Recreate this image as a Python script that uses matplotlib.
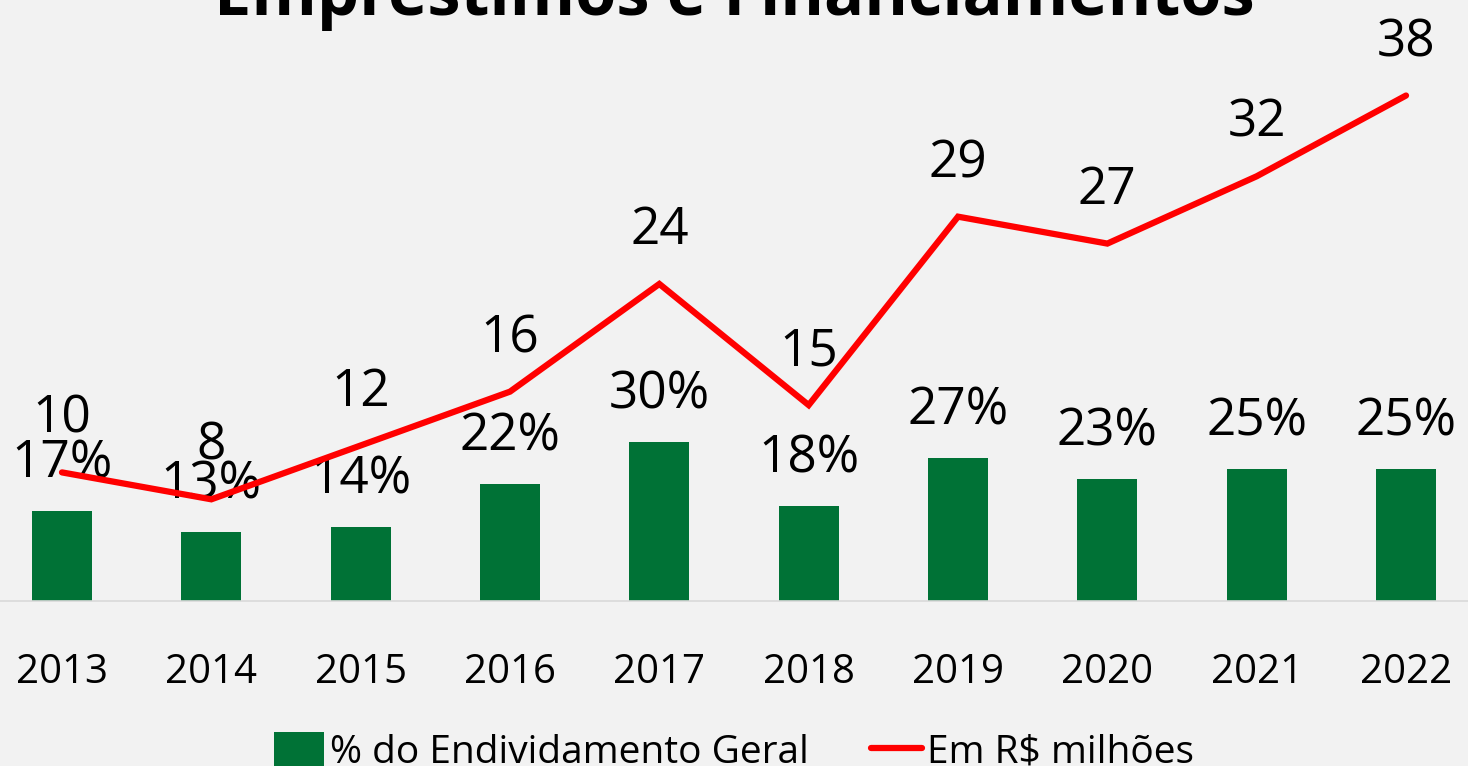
import matplotlib
matplotlib.use("Agg")
import matplotlib.pyplot as plt
from matplotlib.patches import Patch
from matplotlib.lines import Line2D

years = ["2013", "2014", "2015", "2016", "2017", "2018", "2019", "2020", "2021", "2022"]
pct_endividamento = [17, 13, 14, 22, 30, 18, 27, 23, 25, 25]
valor_milhoes = [10, 8, 12, 16, 24, 15, 29, 27, 32, 38]

GREEN = "#007236"
RED = "#ff0000"
BG = "#f2f2f2"
FONT = ["Open Sans", "DejaVu Sans"]

plt.rcParams["font.family"] = FONT

W, H = 1468, 766
fig = plt.figure(figsize=(W / 100, H / 100), dpi=100, facecolor=BG)

ax_bottom = (H - 601) / H
ax = fig.add_axes([0, ax_bottom, 1, 1 - ax_bottom])
ax.set_facecolor("none")
x = list(range(len(years)))

ax.bar(x, pct_endividamento, width=0.4, color=GREEN, zorder=2)
ax.set_xlim(-0.415, len(years) - 1 + 0.415)
ax.set_ylim(0, 601 / 5.3)
for xi, v in zip(x, pct_endividamento):
    ax.annotate(f"{v}%", (xi, v), xytext=(0, 47), textcoords="offset pixels",
                ha="center", va="center", fontsize=37, color="black", zorder=5)

ax2 = ax.twinx()
ax2.set_facecolor("none")
ymin2 = 6 / 13.46
ax2.set_ylim(ymin2, ymin2 + 601 / 13.46)
ax2.plot(x, valor_milhoes, color=RED, lw=4.5, solid_capstyle="round",
         solid_joinstyle="miter", zorder=3)
for xi, v in zip(x, valor_milhoes):
    ax2.annotate(f"{v}", (xi, v), xytext=(0, 53), textcoords="offset pixels",
                 ha="center", va="center", fontsize=37, color="black", zorder=5)

for a in (ax, ax2):
    for s in a.spines.values():
        s.set_visible(False)
    a.tick_params(left=False, right=False, labelleft=False, labelright=False)
ax.spines["bottom"].set_visible(True)
ax.spines["bottom"].set_color("#d9d9d9")
ax.spines["bottom"].set_linewidth(1.2)
ax.set_xticks(x)
ax.set_xticklabels(years, fontsize=29)
ax.tick_params(axis="x", length=0, pad=37)

fig.text(0.5, 1 - 15 / H, "Empréstimos e Financiamentos", ha="center",
         va="baseline", fontsize=48, fontweight="bold", color="black")

handles = [Patch(facecolor=GREEN, edgecolor="none"),
           Line2D([0], [0], color=RED, lw=4.5, solid_capstyle="round")]
fig.legend(handles, ["% do Endividamento Geral", "Em R$ milhões"],
           loc="center", bbox_to_anchor=(0.5, 1 - 752 / H), ncol=2,
           frameon=False, fontsize=28, handlelength=1.3, handleheight=1.0,
           handletextpad=0.15, columnspacing=1.6)

fig.savefig("out.png", dpi=100, facecolor=BG)
